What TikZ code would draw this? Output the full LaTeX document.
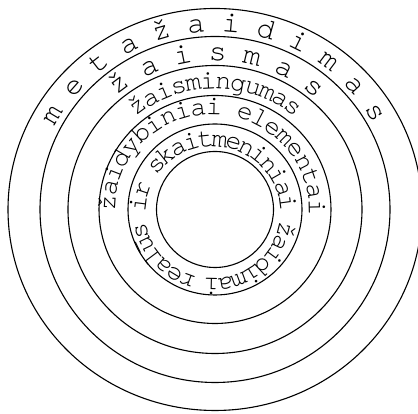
\documentclass[tikz,border=0pt]{standalone}
\usepackage{fontspec}
\newfontfamily\cursorfont{TeX Gyre Cursor}
\begin{document}
\begin{tikzpicture}[x=1pt,y=1pt,
  ring/.style={line width=1.1pt},
  lt/.style={font=\cursorfont\fontsize{27}{27}\selectfont, inner sep=0pt, anchor=base},
  bt/.style={font=\cursorfont\fontsize{30}{30}\selectfont, inner sep=0pt, anchor=base}]
\useasboundingbox (0,0) rectangle (418,414);
\def\cx{215}\def\cy{204.5}
\coordinate (c) at (\cx,\cy);
% circles
\draw[ring] (c) ellipse [x radius=58.5pt, y radius=58pt];
\draw[ring] (c) ellipse [x radius=87pt, y radius=85.5pt];
\draw[ring] (c) ellipse [x radius=116pt, y radius=114pt];
\draw[ring] (c) ellipse [x radius=147pt, y radius=144pt];
\draw[ring] (c) ellipse [x radius=175pt, y radius=173pt];
\draw[ring] (c) ellipse [x radius=207pt, y radius=201pt];
% metažaidimas
\foreach \ch/\k in {m/0,e/1,t/2,a/3,ž/4,a/5,i/6,d/7,i/8,m/9,a/10,s/11}{
  \pgfmathsetmacro\ang{149.2-10.69*\k}
  \node[bt, rotate=\ang-90] (ma\k) at ({\cx+1.02*178*cos(\ang)},{\cy+178*sin(\ang)}) {\ch};
}
% žaismas
\foreach \ch/\k in {ž/0,a/1,i/2,s/3,m/4,a/5,s/6}{
  \pgfmathsetmacro\ang{126.7-12.55*\k}
  \node[bt, rotate=\ang-90] (zs\k) at ({\cx+1.02*149*cos(\ang)},{\cy+149*sin(\ang)}) {\ch};
}
% žaismingumas
\foreach \ch/\k in {ž/0,a/1,i/2,s/3,m/4,i/5,n/6,g/7,u/8,m/9,a/10,s/11}{
  \pgfmathsetmacro\ang{126.2-6.65*\k}
  \node[lt, rotate=\ang-90] (zg\k) at ({\cx+1.02*121*cos(\ang)},{\cy+121*sin(\ang)}) {\ch};
}
% žaidybiniai elementai
\foreach \ch/\k in {ž/0,a/1,i/2,d/3,y/4,b/5,i/6,n/7,i/8,a/9,i/10,e/12,l/13,e/14,m/15,e/16,n/17,t/18,a/19,i/20}{
  \pgfmathsetmacro\ang{176.3-8.75*\k}
  \node[lt, rotate=\ang-90] (ze\k) at ({\cx-3+1.02*95*cos(\ang)},{\cy+95*sin(\ang)}) {\ch};
}
% realūs ir skaitmeniniai žaidimai
\foreach \ch/\k in {r/0,e/1,a/2,l/3,ū/4,s/5,i/7,r/8,s/10,k/11,a/12,i/13,t/14,m/15,e/16,n/17,i/18,n/19,i/20,a/21,i/22,ž/24,a/25,i/26,d/27,i/28,m/29,a/30,i/31}{
  \pgfmathsetmacro\ang{249.7-11.0*\k}
  \node[lt, rotate=\ang-90] (rs\k) at ({\cx-2+1.02*66*cos(\ang)},{\cy-3+66*sin(\ang)}) {\ch};
}
\end{tikzpicture}
\end{document}
